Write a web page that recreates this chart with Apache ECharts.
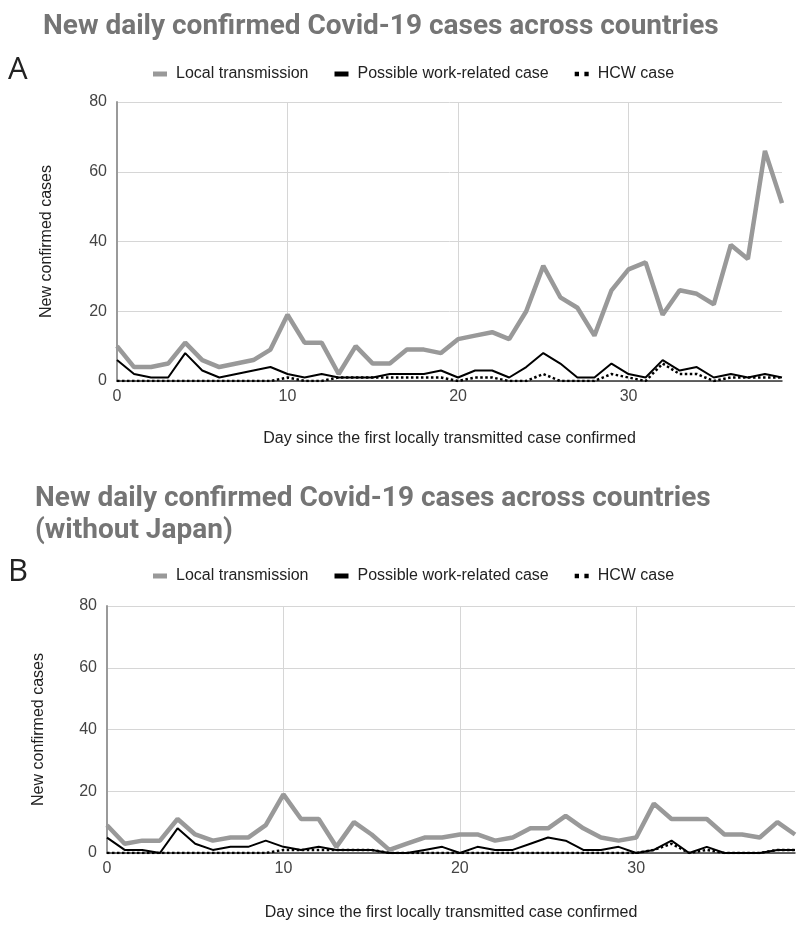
<!DOCTYPE html>
<html>
<head>
<meta charset="utf-8">
<script src="https://cdn.jsdelivr.net/npm/echarts@6/dist/echarts.min.js"></script>
<style>html,body{margin:0;padding:0;background:#fff}#c{width:800px;height:930px}</style>
</head>
<body>
<div id="c"></div>
<script>
const days = [0,1,2,3,4,5,6,7,8,9,10,11,12,13,14,15,16,17,18,19,20,21,22,23,24,25,26,27,28,29,30,31,32,33,34,35,36,37,38,39];

// Panel A: all countries
const localA = [10,4,4,5,11,6,4,5,6,9,19,11,11,2,10,5,5,9,9,8,12,13,14,12,20,33,24,21,13,26,32,34,19,26,25,22,39,35,66,51];
const workA  = [6,2,1,1,8,3,1,2,3,4,2,1,2,1,1,1,2,2,2,3,1,3,3,1,4,8,5,1,1,5,2,1,6,3,4,1,2,1,2,1];
const hcwA   = [0,0,0,0,0,0,0,0,0,0,1,0,0,1,1,1,1,1,1,1,0,1,1,0,0,2,0,0,0,2,1,0,5,2,2,0,1,1,1,1];

// Panel B: without Japan
const localB = [9,3,4,4,11,6,4,5,5,9,19,11,11,2,10,6,1,3,5,5,6,6,4,5,8,8,12,8,5,4,5,16,11,11,11,6,6,5,10,6];
const workB  = [5,1,1,0,8,3,1,2,2,4,2,1,2,1,1,1,0,0,1,2,0,2,1,1,3,5,4,1,1,2,0,1,4,0,2,0,0,0,1,1];
const hcwB   = [0,0,0,0,0,0,0,0,0,0,1,1,1,1,1,1,0,0,0,0,0,0,0,0,0,0,0,0,0,0,0,1,3,0,1,0,0,0,1,1];

const seriesNames = ['Local transmission','Possible work-related case','HCW case'];
const xTicks = [0,10,20,30];
const yTicks = [0,20,40,60,80];

const titleA = 'New daily confirmed Covid-19 cases across countries';
const titleB = 'New daily confirmed Covid-19 cases across countries\n(without Japan)';
const xName = 'Day since the first locally transmitted case confirmed';
const yName = 'New confirmed cases';

const pairs = arr => days.map((d, i) => [d, arr[i]]);

const FONT = 'Liberation Sans, Arial, sans-serif';

function xAxisCfg(gridIndex, gap) {
  return {
    type: 'value', gridIndex, min: 0, max: 39, interval: 10,
    name: xName, nameLocation: 'middle', nameGap: gap,
    nameTextStyle: {fontFamily: FONT, fontSize: 16, color: '#222'},
    axisLine: {show: true, lineStyle: {color: '#333', width: 1.5}},
    axisTick: {show: false},
    axisLabel: {fontFamily: FONT, fontSize: 16, color: '#444', margin: 8, showMaxLabel: false,
      formatter: v => xTicks.includes(v) ? String(v) : ''},
    splitLine: {show: true, showMinLine: false, showMaxLine: false, lineStyle: {color: '#d6d6d6', width: 1}}
  };
}
function yAxisCfg(gridIndex, gap) {
  return {
    type: 'value', gridIndex, min: 0, max: 80, interval: 20,
    name: yName, nameLocation: 'middle', nameGap: gap, nameRotate: 90,
    nameTextStyle: {fontFamily: FONT, fontSize: 16, color: '#222'},
    axisLine: {show: true, lineStyle: {color: '#9a9a9a', width: 2}},
    axisTick: {show: false},
    axisLabel: {fontFamily: FONT, fontSize: 16, color: '#444', margin: 10,
      formatter: v => yTicks.includes(v) ? String(v) : ''},
    splitLine: {show: true, lineStyle: {color: '#d6d6d6', width: 1}}
  };
}
function seriesFor(idx, local, work, hcw) {
  return [
    {name: seriesNames[0], type: 'line', xAxisIndex: idx, yAxisIndex: idx, data: pairs(local),
     symbol: 'none', lineStyle: {color: '#999999', width: 4.5}, itemStyle: {color: '#999999'}, z: 2},
    {name: seriesNames[1], type: 'line', xAxisIndex: idx, yAxisIndex: idx, data: pairs(work),
     symbol: 'none', lineStyle: {color: '#000', width: 2}, itemStyle: {color: '#000'}, z: 3},
    {name: seriesNames[2], type: 'line', xAxisIndex: idx, yAxisIndex: idx, data: pairs(hcw),
     symbol: 'none', lineStyle: {color: '#000', width: 2.5, type: 'dotted'}, itemStyle: {color: '#000'}, z: 4}
  ];
}
function legendCfg(top) {
  return {
    top, left: 148, itemWidth: 14, itemHeight: 5, itemGap: 26,
    data: [
      {name: seriesNames[0], icon: 'rect', itemStyle: {color: '#999999'}},
      {name: seriesNames[1], icon: 'rect', itemStyle: {color: '#000'}},
      {name: seriesNames[2], icon: 'path://M0,0h4v4h-4zM9,0h4v4h-4z', itemStyle: {color: '#000'}}
    ],
    textStyle: {fontFamily: FONT, fontSize: 16, color: '#222', padding: [0, 0, 0, 4]},
    selectedMode: false
  };
}

const chart = echarts.init(document.getElementById('c'), null, {renderer: 'canvas'});
chart.setOption({
  backgroundColor: '#fff',
  animation: false,
  title: [
    {text: titleA, left: 38, top: 8, textStyle: {fontFamily: 'Roboto, sans-serif', fontWeight: 'bold', fontSize: 28, color: '#757575'}},
    {text: titleB, left: 30, top: 478, textStyle: {fontFamily: 'Roboto, sans-serif', fontWeight: 'bold', fontSize: 28, color: '#757575', lineHeight: 32}},
    {text: 'A', left: 3, top: 50, textStyle: {fontFamily: 'Open Sans, sans-serif', fontWeight: 'normal', fontSize: 31, color: '#222'}},
    {text: 'B', left: 3, top: 552, textStyle: {fontFamily: 'Open Sans, sans-serif', fontWeight: 'normal', fontSize: 31, color: '#222'}}
  ],
  legend: [legendCfg(61), legendCfg(563)],
  grid: [
    {left: 117, top: 102, width: 665, height: 279},
    {left: 107, top: 606, width: 688, height: 247}
  ],
  xAxis: [xAxisCfg(0, 50), xAxisCfg(1, 52)],
  yAxis: [yAxisCfg(0, 62), yAxisCfg(1, 60)],
  series: [...seriesFor(0, localA, workA, hcwA), ...seriesFor(1, localB, workB, hcwB)]
});
</script>
</body>
</html>
